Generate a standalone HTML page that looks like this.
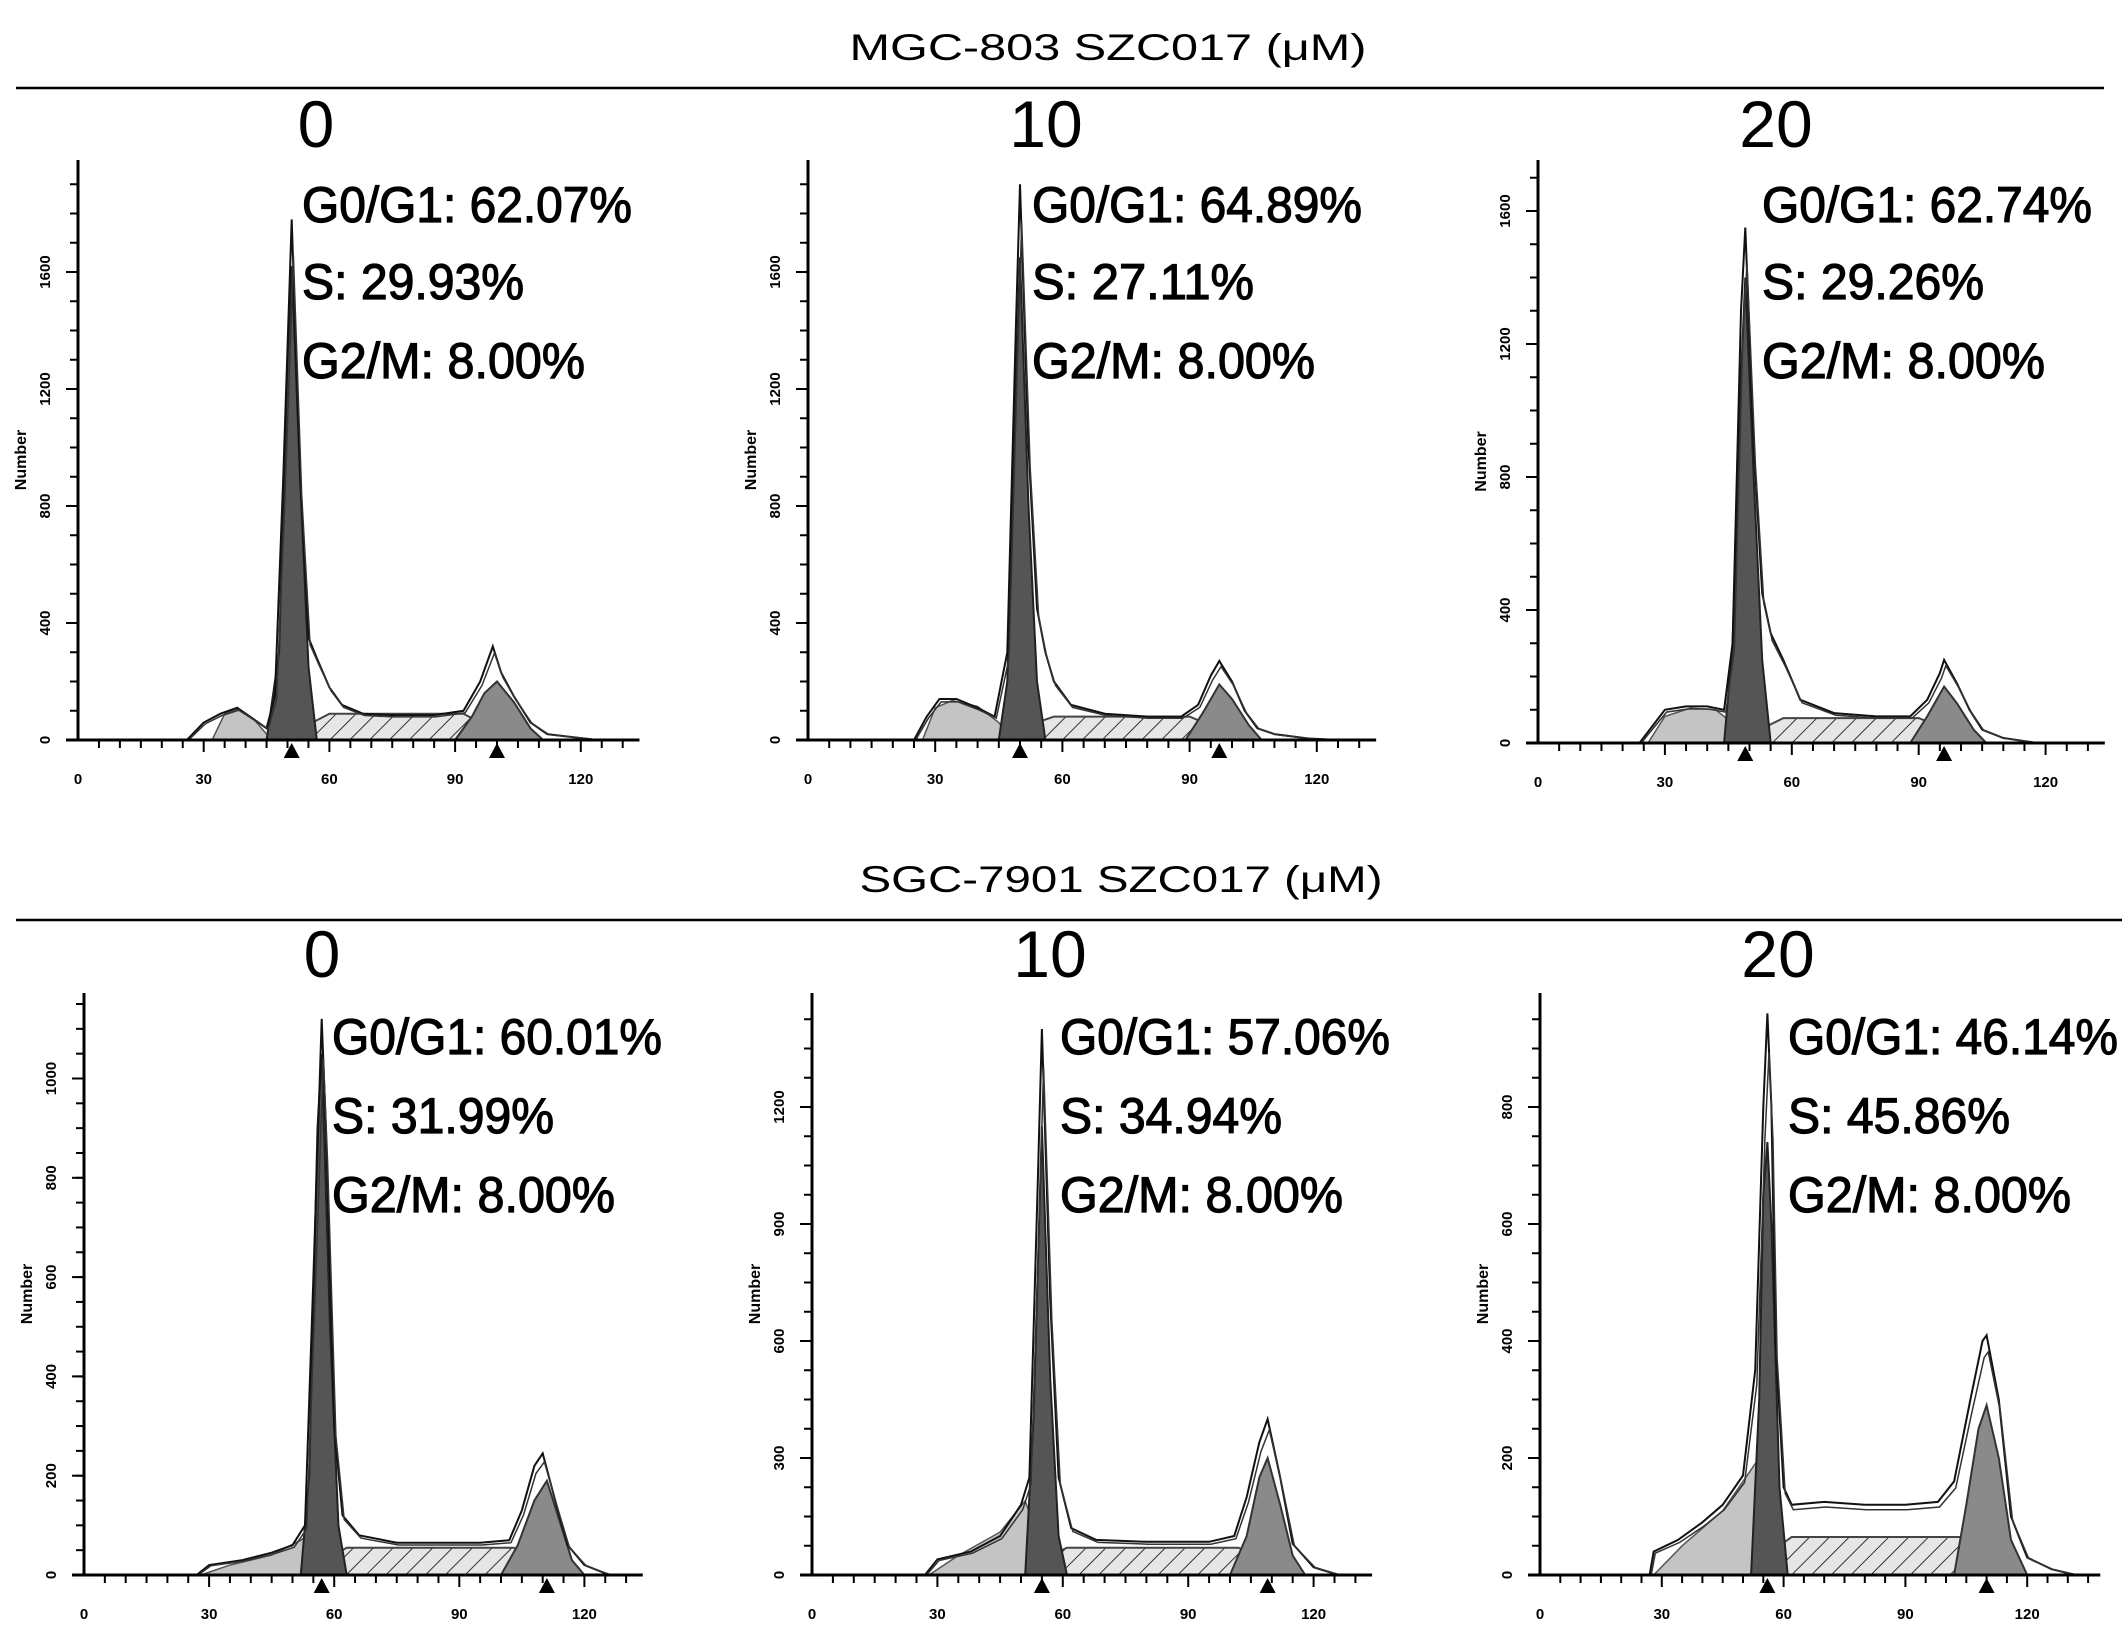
<!DOCTYPE html>
<html><head><meta charset="utf-8"><style>
html,body{margin:0;padding:0;background:#fff;}
svg{display:block;}
text{font-family:"Liberation Sans",Arial,sans-serif;}
</style></head><body>
<svg id="fig" width="2126" height="1632" viewBox="0 0 2126 1632" xmlns="http://www.w3.org/2000/svg">
<defs>
<pattern id="hatch" patternUnits="userSpaceOnUse" width="14" height="14" patternTransform="rotate(45)">
<rect width="14" height="14" fill="#e6e6e6"/><line x1="0" y1="0" x2="0" y2="14" stroke="#333" stroke-width="2"/>
</pattern>
</defs>
<text x="1108" y="60" font-size="37" text-anchor="middle" textLength="517" lengthAdjust="spacingAndGlyphs">MGC-803    SZC017 (μM)</text>
<line x1="16" y1="88" x2="2104" y2="88" stroke="#000" stroke-width="2.5"/>
<text x="1121" y="892" font-size="37" text-anchor="middle" textLength="523" lengthAdjust="spacingAndGlyphs">SGC-7901    SZC017 (μM)</text>
<line x1="16" y1="920" x2="2122" y2="920" stroke="#000" stroke-width="2.5"/>
<g id="panels"></g>
</svg>
<script>
// ---- data (channel, count) ----
const env_t0=[[26,0],[30,60],[34,90],[38,110],[42,70],[45,40],[47,150],[49,900],[51,1780],[53,900],[55,350],[57,280],[60,180],[63,120],[68,90],[75,85],[85,85],[92,100],[96,200],[99,320],[101,230],[104,150],[108,60],[112,20],[118,10],[124,0]];
const g1_t0=[[45,0],[48,300],[50,1300],[51,1620],[53,900],[55,250],[57,0]];
const g2_t0=[[90,0],[94,80],[97,160],[100,200],[104,130],[108,40],[111,0]];
const deb_t0=[[32,0],[35,90],[38,105],[42,70],[45,20],[47,0]];
const s_t0=[[52,0],[56,60],[60,90],[92,90],[96,60],[100,0]];

const env_t10=[[25,0],[28,80],[31,140],[35,140],[40,110],[44,80],[47,300],[49,1400],[50,1900],[52,1000],[54,450],[56,300],[58,200],[62,120],[70,90],[80,80],[88,80],[92,120],[95,220],[97,270],[100,200],[103,100],[106,40],[110,20],[118,5],[125,0]];
const g1_t10=[[45,0],[47,200],[49,1200],[50,1650],[52,800],[54,200],[56,0]];
const g2_t10=[[89,0],[93,90],[97,190],[100,140],[104,50],[107,0]];
const deb_t10=[[27,0],[30,110],[34,135],[40,115],[45,60],[48,0]];
const s_t10=[[50,0],[54,60],[58,80],[90,80],[95,50],[100,0]];

const env_t20=[[24,0],[27,50],[30,100],[35,110],[40,110],[44,100],[46,300],[48,1300],[49,1550],[51,900],[53,450],[55,330],[58,250],[62,130],[70,90],[80,80],[88,80],[92,130],[95,210],[96,250],[99,180],[102,100],[105,40],[110,15],[118,0]];
const g1_t20=[[44,0],[46,300],[48,1100],[49,1400],[51,800],[53,250],[55,0]];
const g2_t20=[[88,0],[92,80],[96,170],[99,120],[103,40],[106,0]];
const deb_t20=[[26,0],[30,80],[36,105],[42,100],[46,60],[48,0]];
const s_t20=[[50,0],[54,50],[58,75],[90,75],[95,50],[100,0]];

const env_b0=[[27,0],[30,20],[38,30],[45,45],[50,60],[53,100],[55,600],[57,1120],[58,900],[60,300],[62,120],[66,80],[75,65],[95,65],[102,70],[105,130],[108,220],[110,245],[113,150],[116,60],[120,20],[126,0]];
const g1_b0=[[52,0],[54,200],[56,900],[57,1050],[59,500],[61,100],[63,0]];
const g2_b0=[[100,0],[104,60],[108,150],[111,190],[114,110],[117,30],[120,0]];
const deb_b0=[[28,0],[35,20],[45,40],[52,70],[55,90],[58,0]];
const s_b0=[[55,0],[60,40],[63,55],[103,55],[108,40],[112,0]];

const env_b10=[[27,0],[30,40],[38,60],[45,100],[50,180],[52,250],[54,1000],[55,1400],[57,700],[59,250],[62,120],[68,90],[80,85],[95,85],[101,100],[104,200],[107,340],[109,400],[112,250],[115,80],[120,20],[126,0]];
const g1_b10=[[51,0],[53,400],[55,1150],[57,500],[59,100],[61,0]];
const g2_b10=[[100,0],[104,100],[107,250],[109,300],[112,180],[115,50],[118,0]];
const deb_b10=[[28,0],[35,50],[45,110],[51,190],[54,100],[57,0]];
const s_b10=[[53,0],[57,50],[61,70],[102,70],[107,50],[112,0]];

const env_b20=[[27,0],[28,40],[34,60],[40,90],[45,120],[50,170],[53,350],[55,800],[56,960],[57,800],[58,400],[60,150],[62,120],[70,125],[80,120],[90,120],[98,125],[102,160],[106,300],[109,400],[110,410],[113,300],[116,100],[120,30],[126,10],[132,0]];
const g1_b20=[[52,0],[54,300],[55,650],[56,740],[57,600],[59,150],[61,0]];
const g2_b20=[[102,0],[105,120],[108,250],[110,290],[113,200],[116,60],[120,0]];
const deb_b20=[[28,0],[35,50],[45,110],[50,160],[54,200],[56,100],[59,0]];
const s_b20=[[55,0],[58,45],[62,65],[104,65],[110,40],[116,0]];

const doses=["0","10","20","0","10","20"];
const g1Labels=["G0/G1: 62.07%","G0/G1: 64.89%","G0/G1: 62.74%","G0/G1: 60.01%","G0/G1: 57.06%","G0/G1: 46.14%"];
const sLabels=["S: 29.93%","S: 27.11%","S: 29.26%","S: 31.99%","S: 34.94%","S: 45.86%"];
const g2Labels=["G2/M: 8.00%","G2/M: 8.00%","G2/M: 8.00%","G2/M: 8.00%","G2/M: 8.00%","G2/M: 8.00%"];
const xTicks=[0,30,60,90,120];
const yTicksT=[0,400,800,1200,1600];
const yTicksB0=[0,200,400,600,800,1000];
const yTicksB10=[0,300,600,900,1200];
const yTicksB20=[0,200,400,600,800];

const series=[
 [env_t0,g1_t0,g2_t0,deb_t0,s_t0],[env_t10,g1_t10,g2_t10,deb_t10,s_t10],[env_t20,g1_t20,g2_t20,deb_t20,s_t20],
 [env_b0,g1_b0,g2_b0,deb_b0,s_b0],[env_b10,g1_b10,g2_b10,deb_b10,s_b10],[env_b20,g1_b20,g2_b20,deb_b20,s_b20]];
const yTickSets=[yTicksT,yTicksT,yTicksT,yTicksB0,yTicksB10,yTicksB20];
// layout (pixels)
const layout=[
 {ox:78,oy:740,top:160,xs:4.19,ys:0.2925,xmax:134,ty:147,tb:[222,299,378],yminor:100},
 {ox:808,oy:740,top:160,xs:4.24,ys:0.2925,xmax:134,ty:147,tb:[222,299,378],yminor:100},
 {ox:1538,oy:743,top:160,xs:4.23,ys:0.3325,xmax:134,ty:147,tb:[222,299,378],yminor:100},
 {ox:84,oy:1575,top:993,xs:4.17,ys:0.4965,xmax:134,ty:977,tb:[1054,1133,1212],yminor:50},
 {ox:812,oy:1575,top:993,xs:4.18,ys:0.39,xmax:134,ty:977,tb:[1054,1133,1212],yminor:75},
 {ox:1540,oy:1575,top:993,xs:4.06,ys:0.585,xmax:138,ty:977,tb:[1054,1133,1212],yminor:50}];
const NS="http://www.w3.org/2000/svg";
const root=document.getElementById('panels');
function mk(tag,attrs,parent){const e=document.createElementNS(NS,tag);for(const k in attrs)e.setAttribute(k,attrs[k]);parent.appendChild(e);return e;}
layout.forEach((L,i)=>{
 const g=mk('g',{},root);
 
 
 const X=v=>L.ox+v*L.xs, Y=v=>L.oy-v*L.ys;
 const pts=a=>a.map(p=>X(p[0]).toFixed(1)+','+Y(p[1]).toFixed(1)).join(' ');
 const [env,g1,g2,deb,s]=series[i];
 const d=mk('polygon',{points:pts(deb),fill:'#c4c4c4',stroke:'#555','stroke-width':1.5},g);
 
 
 const sp=mk('polygon',{points:pts(s),fill:'url(#hatch)',stroke:'#444','stroke-width':2},g);
 
 
 const p2=mk('polygon',{points:pts(g2),fill:'#8a8a8a',stroke:'#333','stroke-width':2},g);
 
 
 const p1=mk('polygon',{points:pts(g1),fill:'#555',stroke:'#222','stroke-width':2},g);
 
 
 const e=mk('polyline',{points:pts(env),fill:'none',stroke:'#111','stroke-width':2},g);
 
 
 const e2=mk('polyline',{points:pts(env.map(p=>[p[0]+0.4,p[1]*0.93])),fill:'none',stroke:'#333','stroke-width':1.5},g);
 
 
 // axes
 mk('line',{x1:L.ox,y1:L.top,x2:L.ox,y2:L.oy,stroke:'#000','stroke-width':3},g);
 mk('line',{x1:L.ox-12,y1:L.oy,x2:X(L.xmax),y2:L.oy,stroke:'#000','stroke-width':3},g);
 for(let v=5;v<=L.xmax;v+=5){mk('line',{x1:X(v),y1:L.oy,x2:X(v),y2:L.oy+(v%30===0?12:8),stroke:'#000','stroke-width':2},g);}
 xTicks.forEach(v=>{const t=mk('text',{x:X(v),y:L.oy+44,'font-size':15,'font-weight':'bold','text-anchor':'middle'},g);t.textContent=v;
  
  });
 const yt=yTickSets[i];const ymax=(L.oy-L.top)/L.ys;
 for(let v=L.yminor;v<=ymax;v+=L.yminor){mk('line',{x1:L.ox-8,y1:Y(v),x2:L.ox,y2:Y(v),stroke:'#000','stroke-width':2},g);}
 yt.forEach(v=>{mk('line',{x1:L.ox-12,y1:Y(v),x2:L.ox,y2:Y(v),stroke:'#000','stroke-width':2},g);
  const t=mk('text',{x:L.ox-28,y:Y(v),'font-size':15,'font-weight':'bold','text-anchor':'middle',transform:`rotate(-90 ${L.ox-28} ${Y(v)})`},g);t.textContent=v;
  
  });
 const yl=mk('text',{x:L.ox-52,y:(L.top+L.oy)/2+10,'font-size':16,'font-weight':'bold','text-anchor':'middle',transform:`rotate(-90 ${L.ox-52} ${(L.top+L.oy)/2+10})`},g);
 yl.textContent='Number';
 
 
 // peak markers
 [g1,g2].forEach(a=>{const pk=a.reduce((m,p)=>p[1]>m[1]?p:m);const cx=X(pk[0]);
  const tr=mk('polygon',{points:`${cx-8},${L.oy+18} ${cx+8},${L.oy+18} ${cx},${L.oy+3}`,fill:'#000'},g);
  
  });
 // titles
 const ti=mk('text',{x:L.ox+238,y:L.ty,'font-size':66,'text-anchor':'middle'},g);ti.textContent=doses[i];
 
 
 const tx=L.ox+(i<3?224:248);
 [[g1Labels[i],330],[sLabels[i],222],[g2Labels[i],283]].forEach((lb,k)=>{
  const t=mk('text',{x:tx,y:L.tb[k],'font-size':50,textLength:lb[1],lengthAdjust:'spacingAndGlyphs',stroke:'#000','stroke-width':1.2},g);t.textContent=lb[0];
  
  });
});
</script>
</body></html>
